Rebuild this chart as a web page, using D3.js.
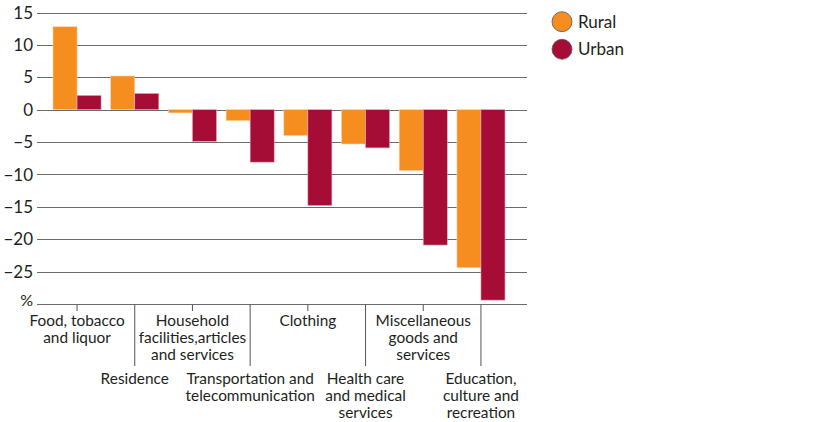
<!DOCTYPE html>
<html>
<head>
<meta charset="utf-8">
<script src="https://cdn.jsdelivr.net/npm/d3@7"></script>
<style>
  body { margin: 0; background: #fff; }
  text { font-family: Lato, "Open Sans", sans-serif; fill: #231f20; }
</style>
</head>
<body>
<svg id="chart" width="816" height="422"></svg>
<script>
const categories = [
  ['Food, tobacco', 'and liquor'],
  ['Residence'],
  ['Household', 'facilities,articles', 'and services'],
  ['Transportation and', 'telecommunication'],
  ['Clothing'],
  ['Health care', 'and medical', 'services'],
  ['Miscellaneous', 'goods and', 'services'],
  ['Education,', 'culture and', 'recreation']
];
const rural = [12.8, 5.2, -0.5, -1.7, -4.0, -5.3, -9.4, -24.4];
const urban = [2.2, 2.5, -4.9, -8.1, -14.8, -5.9, -20.9, -29.4];
const yTicks = [15, 10, 5, 0, -5, -10, -15, -20, -25];
const series = [
  { name: 'Rural', values: rural, color: '#f68d1f' },
  { name: 'Urban', values: urban, color: '#a50d37' }
];

const svg = d3.select('#chart');
const plotLeft = 37, plotRight = 527;

const y = d3.scaleLinear().domain([-30, 15]).range([304, 12.5]);
const x = d3.scaleBand()
  .domain(d3.range(categories.length))
  .range([48.2, 509.8]);
const inner = d3.scaleBand()
  .domain(series.map((s) => s.name))
  .range([0, x.bandwidth()])
  .paddingOuter(0.2);

// gridlines
svg.append('g')
  .selectAll('line')
  .data(yTicks)
  .join('line')
  .attr('x1', plotLeft)
  .attr('x2', plotRight)
  .attr('y1', (d) => Math.round(y(d)) + 0.5)
  .attr('y2', (d) => Math.round(y(d)) + 0.5)
  .attr('stroke', '#6b6b6b')
  .attr('stroke-width', 1.2);

// y labels
svg.append('g')
  .selectAll('text')
  .data(yTicks)
  .join('text')
  .attr('x', 33)
  .attr('y', (d) => y(d))
  .attr('dy', '0.36em')
  .attr('text-anchor', 'end')
  .attr('font-size', 17)
  .text((d) => (d < 0 ? '\u2212' + Math.abs(d) : d));

svg.append('text')
  .attr('x', 33)
  .attr('y', y(-30) + 2)
  .attr('text-anchor', 'end')
  .attr('font-size', 16)
  .text('%');

// bars
series.forEach((s) => {
  svg.append('g')
    .selectAll('rect')
    .data(s.values)
    .join('rect')
    .attr('x', (d, i) => x(i) + inner(s.name))
    .attr('width', inner.bandwidth())
    .attr('y', (d) => y(Math.max(0, d)))
    .attr('height', (d) => Math.abs(y(d) - y(0)))
    .attr('fill', s.color)
    .attr('stroke', s.name === 'Rural' ? '#fbd3a8' : '#e9a3b4')
    .attr('stroke-width', 0.6);
});

// bottom axis line
const axisY = Math.round(y(-30)) + 0.5;
svg.append('line')
  .attr('x1', plotLeft)
  .attr('x2', plotRight)
  .attr('y1', axisY)
  .attr('y2', axisY)
  .attr('stroke', '#6b6b6b')
  .attr('stroke-width', 1.2);

// category ticks and labels, alternating short/long
const cx = (i) => x(i) + x.bandwidth() / 2;
const cats = svg.append('g')
  .selectAll('g')
  .data(categories)
  .join('g')
  .attr('transform', (d, i) => `translate(${cx(i)},0)`);

cats.append('line')
  .attr('y1', axisY)
  .attr('y2', (d, i) => (i % 2 ? 366 : 311))
  .attr('stroke', '#555')
  .attr('stroke-width', 1);

cats.append('text')
  .attr('text-anchor', 'middle')
  .attr('font-size', 15.4)
  .selectAll('tspan')
  .data((d, i) => d.map((line, j) => ({ line, j, i })))
  .join('tspan')
  .attr('x', 0)
  .attr('y', (d) => (d.i % 2 ? 384 : 326) + d.j * 17)
  .text((d) => d.line);

// legend
const legend = svg.append('g')
  .selectAll('g')
  .data(series)
  .join('g')
  .attr('transform', (d, i) => `translate(562,${21.7 + i * 27.6})`);

legend.append('circle')
  .attr('r', 10)
  .attr('fill', (d) => d.color)
  .attr('stroke', '#555')
  .attr('stroke-width', 0.8);

legend.append('text')
  .attr('x', 16)
  .attr('dy', '0.36em')
  .attr('font-size', 17)
  .text((d) => d.name);
</script>
</body>
</html>
